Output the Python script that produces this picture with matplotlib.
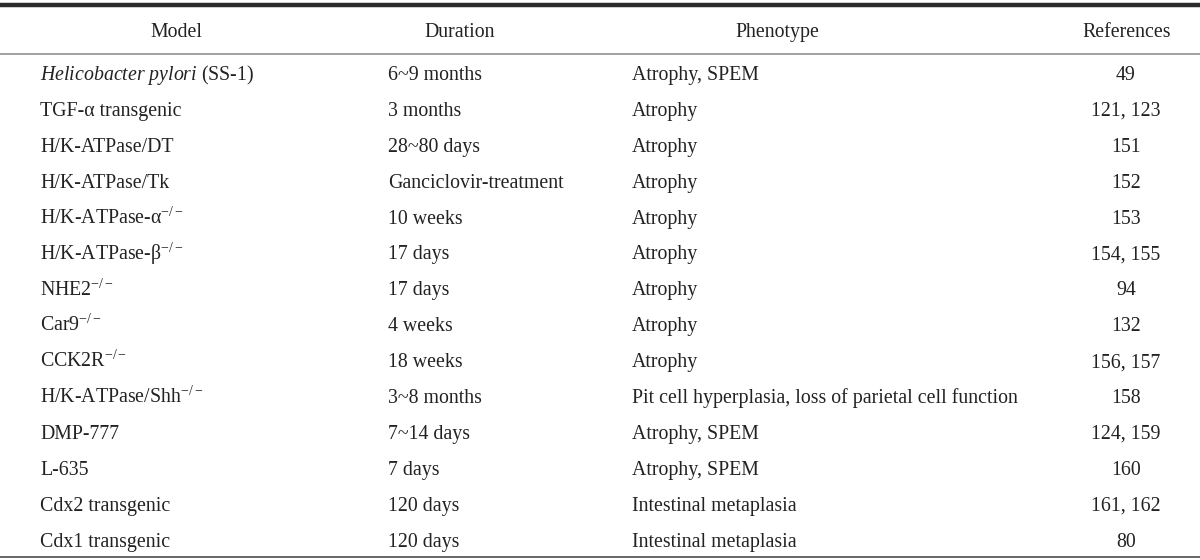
import matplotlib.pyplot as plt

plt.rcParams['font.family'] = ['Liberation Serif', 'DejaVu Serif']
plt.rcParams['mathtext.fontset'] = 'custom'
plt.rcParams['mathtext.rm'] = 'Liberation Serif'
plt.rcParams['mathtext.it'] = 'Liberation Serif:italic'

# Table content
headers = ['Model', 'Duration', 'Phenotype', 'References']
models = [
    r'$\mathit{Helicobacter\ pylori}$ (SS-1)',
    'TGF-α transgenic',
    'H/K-ATPase/DT',
    'H/K-ATPase/Tk',
    r'H/K-ATPase-α$^{-/-}$',
    r'H/K-ATPase-β$^{-/-}$',
    r'NHE2$^{-/-}$',
    r'Car9$^{-/-}$',
    r'CCK2R$^{-/-}$',
    r'H/K-ATPase/Shh$^{-/-}$',
    'DMP-777',
    'L-635',
    'Cdx2 transgenic',
    'Cdx1 transgenic',
]
durations = ['6~9 months', '3 months', '28~80 days', 'Ganciclovir-treatment',
             '10 weeks', '17 days', '17 days', '4 weeks', '18 weeks',
             '3~8 months', '7~14 days', '7 days', '120 days', '120 days']
phenotypes = ['Atrophy, SPEM', 'Atrophy', 'Atrophy', 'Atrophy', 'Atrophy',
              'Atrophy', 'Atrophy', 'Atrophy', 'Atrophy',
              'Pit cell hyperplasia, loss of parietal cell function',
              'Atrophy, SPEM', 'Atrophy, SPEM', 'Intestinal metaplasia',
              'Intestinal metaplasia']
references = ['49', '121, 123', '151', '152', '153', '154, 155', '94', '132',
              '156, 157', '158', '124, 159', '160', '161, 162', '80']

fig = plt.figure(figsize=(12, 5.6), dpi=100)
ax = fig.add_axes([0, 0, 1, 1])
ax.set_xlim(0, 1200)
ax.set_ylim(560, 0)
ax.axis('off')

fs = 14.3
col_text_x = [40, 388, 632]
header_x = [176, 460, 777, 1127]
ref_x = 1126
header_base = 37
row_base0 = 80
row_step = 35.9
tc = '#222222'

# rules
ax.plot([0, 1200], [4.5, 4.5], color='#2b2b2b', lw=3.2, solid_capstyle='butt')
ax.plot([0, 1200], [54, 54], color='#9a9a9a', lw=1.3, solid_capstyle='butt')
ax.plot([0, 1200], [556.5, 556.5], color='#666666', lw=1.4, solid_capstyle='butt')

for h, x in zip(headers, header_x):
    ax.text(x, header_base, h, ha='center', va='baseline', fontsize=fs, color=tc)

for i, (m, d, p, r) in enumerate(zip(models, durations, phenotypes, references)):
    y = row_base0 + i * row_step
    ax.text(col_text_x[0], y, m, ha='left', va='baseline', fontsize=fs, color=tc)
    ax.text(col_text_x[1], y, d, ha='left', va='baseline', fontsize=fs, color=tc)
    ax.text(col_text_x[2], y, p, ha='left', va='baseline', fontsize=fs, color=tc)
    ax.text(ref_x, y, r, ha='center', va='baseline', fontsize=fs, color=tc)

fig.savefig('out.png', dpi=100)
